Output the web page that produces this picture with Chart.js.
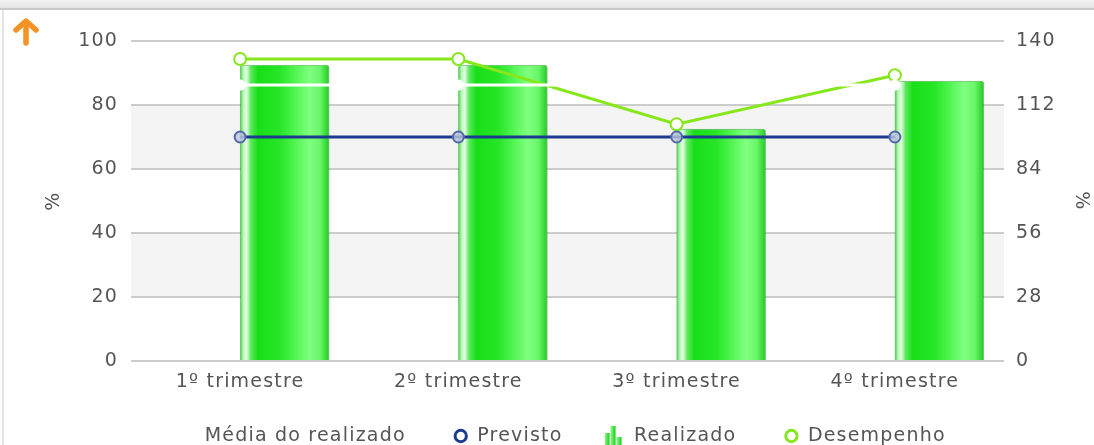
<!DOCTYPE html>
<html><head><meta charset="utf-8">
<script src="https://cdn.jsdelivr.net/npm/chart.js@4.4.1/dist/chart.umd.min.js"></script>
<style>
html,body{margin:0;padding:0;background:#fff;overflow:hidden}
#wrap{position:relative;width:1094px;height:445px}
canvas{position:absolute;left:0;top:0}
#hdr{position:absolute;left:0;top:0;width:1094px;height:8px;background:linear-gradient(#f3f3f3,#e3e3e3);border-bottom:2px solid #c9c9c9}
#lb{position:absolute;left:2px;top:10px;width:2px;height:435px;background:#e4e4e4}
#arrow{position:absolute;left:12px;top:18px}
</style></head><body>
<div id="wrap">
<canvas id="c" width="1094" height="445"></canvas>
<div id="hdr"></div><div id="lb"></div>
<svg id="arrow" width="28" height="28" viewBox="0 0 28 28"><path d="M4 12 L14 3 L24 12" stroke="#f39325" stroke-width="5.5" fill="none" stroke-linecap="round" stroke-linejoin="round"/><path d="M14 5 L14 25" stroke="#f39325" stroke-width="5.5" stroke-linecap="round"/></svg>
</div>
<script>
const categories = ['1º trimestre', '2º trimestre', '3º trimestre', '4º trimestre'];
const realizado = [92.5, 92.5, 72.5, 87.5];
const previsto = [70, 70, 70, 70];
const mediaRealizado = [86.25, 86.25, 86.25, 86.25];
const desempenho = [132.1, 132.1, 103.6, 125];
const leftTicks = [0, 20, 40, 60, 80, 100];
const rightTicks = [0, 28, 56, 84, 112, 140];
const bandRanges = [[20, 40], [60, 80]];

const BAR_W = 89;
const FONT = 'DejaVu Sans';
Chart.defaults.font.family = FONT;
Chart.defaults.font.size = 19;
Chart.defaults.color = '#555';

function barFill(ctx) {
  const chart = ctx.chart;
  if (!chart.chartArea || ctx.type !== 'data') return '#22e622';
  const x = chart.scales.x.getPixelForValue(ctx.dataIndex);
  const g = chart.ctx.createLinearGradient(x, 0, x + BAR_W, 0);
  g.addColorStop(0, '#3fd23f');
  g.addColorStop(0.035, '#b4f7b4');
  g.addColorStop(0.07, '#e6ffe6');
  g.addColorStop(0.12, '#5ce95c');
  g.addColorStop(0.2, '#17df17');
  g.addColorStop(0.45, '#27e627');
  g.addColorStop(0.62, '#52f552');
  g.addColorStop(0.78, '#80ff80');
  g.addColorStop(0.9, '#68f668');
  g.addColorStop(0.97, '#36d836');
  g.addColorStop(1, '#2bc42b');
  return g;
}

function makeBarIcon() {
  const c = document.createElement('canvas');
  c.width = 26; c.height = 20;
  const g = c.getContext('2d');
  [[0, 7, 5], [6, 0, 5], [12, 11, 5]].forEach(([x, t, w]) => {
    const gr = g.createLinearGradient(x, 0, x + w, 0);
    gr.addColorStop(0, '#8cff8c');
    gr.addColorStop(1, '#12d012');
    g.fillStyle = gr;
    g.fillRect(x, t, w, 20 - t);
  });
  return c;
}
const barIcon = makeBarIcon();

const spacing = {
  id: 'spacing',
  beforeUpdate(c) { c.ctx.letterSpacing = '1.2px'; },
  beforeLayout(c) { c.ctx.letterSpacing = '1.2px'; },
  beforeDraw(c) { c.ctx.letterSpacing = '1.2px'; }
};

const bands = {
  id: 'bands',
  beforeDraw(c) {
    const {ctx, chartArea: a, scales: {y}} = c;
    ctx.save();
    ctx.fillStyle = '#f4f4f4';
    bandRanges.forEach(([lo, hi]) => {
      const t = y.getPixelForValue(hi), b = y.getPixelForValue(lo);
      ctx.fillRect(a.left, t, a.right - a.left, b - t);
    });
    ctx.restore();
  }
};

const legendRank = {0: 0, 1: 1, 4: 2, 2: 3};
const legendStroke = {0: '#ffffff', 1: '#1d3b8e', 2: '#86e81c'};

new Chart(document.getElementById('c'), {
  type: 'bar',
  data: {
    labels: categories,
    datasets: [
      { type: 'line', label: 'Média do realizado', data: mediaRealizado, yAxisID: 'y',
        borderColor: '#ffffff', backgroundColor: '#ffffff', borderWidth: 3,
        pointRadius: 4, pointBackgroundColor: '#ffffff', pointBorderColor: '#ffffff', tension: 0 },
      { type: 'line', label: 'Previsto', data: previsto, yAxisID: 'y',
        borderColor: '#1d3b8e', backgroundColor: '#ffffff', borderWidth: 3,
        pointRadius: 5.5, pointBorderWidth: 2, pointBorderColor: '#5367ab',
        pointBackgroundColor: 'rgba(190,198,222,0.8)', tension: 0 },
      { type: 'line', label: 'Desempenho', data: desempenho, yAxisID: 'y1',
        borderColor: '#86e81c', backgroundColor: '#ffffff', borderWidth: 3,
        pointRadius: 6, pointBorderWidth: 2, pointBorderColor: '#86e81c',
        pointBackgroundColor: '#ffffff', tension: 0 },
      { type: 'bar', label: '_slot', data: [null, null, null, null], yAxisID: 'y' },
      { type: 'bar', label: 'Realizado', data: realizado, yAxisID: 'y',
        backgroundColor: barFill, borderColor: 'rgba(20,150,20,0.55)', borderWidth: 1,
        borderRadius: {topLeft: 3, topRight: 3}, borderSkipped: 'bottom' }
    ]
  },
  options: {
    responsive: false,
    animation: false,
    devicePixelRatio: 1,
    events: [],
    layout: { padding: { left: 33, right: 0, top: 41, bottom: -10.5 } },
    datasets: { bar: { barThickness: BAR_W } },
    scales: {
      x: {
        grid: { display: false, drawTicks: false },
        border: { display: false },
        ticks: { padding: 10, font: { size: 19 }, color: '#555' },
        afterFit: s => { s.height = 17.5; s._computeLabelArea = () => null; }
      },
      y: {
        position: 'left', min: 0, max: 100,
        grid: { color: '#cccccc', lineWidth: 2, drawTicks: false },
        border: { display: false },
        ticks: { padding: 13, font: { size: 19 }, color: '#555' },
        afterBuildTicks: s => { s.ticks = leftTicks.map(v => ({ value: v })); },
        title: { display: true, text: '%', font: { size: 19 }, color: '#555', padding: { top: 9.4, bottom: 0 } },
        afterFit: s => { s.width = 98; }
      },
      y1: {
        position: 'right', min: 0, max: 140,
        grid: { display: false, drawTicks: false },
        border: { display: false },
        ticks: { padding: 12, font: { size: 19 }, color: '#555' },
        afterBuildTicks: s => { s.ticks = rightTicks.map(v => ({ value: v })); },
        title: { display: true, text: '%', font: { size: 19 }, color: '#555', padding: { top: 1.4, bottom: 0 } },
        afterFit: s => { s.width = 90; }
      }
    },
    plugins: {
      tooltip: { enabled: false },
      legend: {
        position: 'bottom',
        labels: {
          usePointStyle: true,
          boxWidth: 14,
          boxHeight: 8,
          padding: 48,
          color: '#555',
          font: { size: 19 },
          generateLabels(chart) {
            const items = Chart.defaults.plugins.legend.labels.generateLabels(chart)
              .filter(it => it.datasetIndex in legendRank);
            items.forEach(it => {
              if (it.datasetIndex === 4) {
                it.pointStyle = barIcon;
              } else {
                it.pointStyle = 'circle';
                it.fillStyle = '#ffffff';
                it.strokeStyle = legendStroke[it.datasetIndex];
                it.lineWidth = 3;
              }
            });
            items.sort((a, b) => legendRank[a.datasetIndex] - legendRank[b.datasetIndex]);
            return items;
          }
        }
      }
    }
  },
  plugins: [spacing, bands]
});
</script>
</body></html>
